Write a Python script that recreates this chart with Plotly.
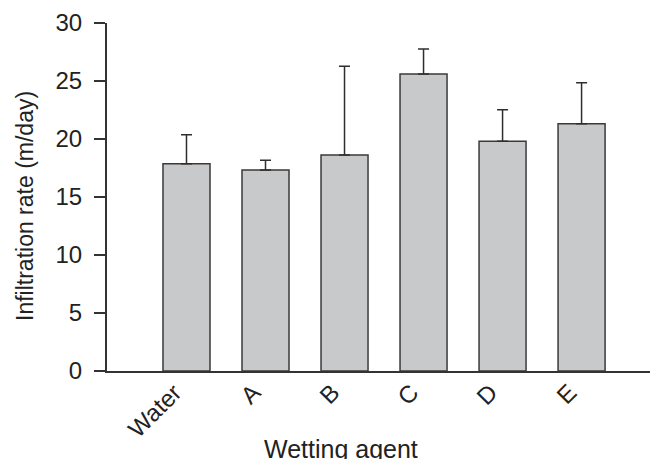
import plotly.graph_objects as go

categories = ["Water", "A", "B", "C", "D", "E"]
means = [17.87, 17.33, 18.62, 25.6, 19.8, 21.32]
upper = [20.37, 18.16, 26.27, 27.76, 22.53, 24.85]
err_plus = [u - m for u, m in zip(upper, means)]
err_minus = [0] * len(means)
y_ticks = [0, 5, 10, 15, 20, 25, 30]

W, H = 651, 459
L, R, T, B = 107, 1, 23, 88
pw = W - L - R
ph = H - T - B

fig = go.Figure()
fig.add_trace(go.Bar(
    x=list(range(len(categories))),
    y=means,
    marker=dict(color="#c8c9cb", line=dict(color="#3a3a3a", width=1.5)),
    error_y=dict(type="data", symmetric=False, array=err_plus, arrayminus=err_minus,
                 color="#2e2e2e", thickness=1.5, width=5.5),
    showlegend=False,
))

fig.update_layout(
    width=W, height=H,
    margin=dict(l=L, r=R, t=T, b=B, pad=0),
    paper_bgcolor="white", plot_bgcolor="white",
    bargap=0.405,
    font=dict(family="Liberation Sans, Arial, sans-serif", color="#222222"),
)
fig.update_xaxes(
    range=[-1.006, 5.866],
    tickmode="array", tickvals=list(range(len(categories))), ticktext=categories,
    tickangle=-45, tickfont=dict(size=24),
    ticklabelshift=-12, ticklabelstandoff=-4,
    ticks="", showline=True, linecolor="#333333", linewidth=2,
    showgrid=False, zeroline=False,
)
fig.update_yaxes(
    range=[0, 30],
    tickmode="array", tickvals=y_ticks, ticktext=[str(t) for t in y_ticks],
    tickfont=dict(size=24), ticks="outside", ticklen=11, tickwidth=2, tickcolor="#333333",
    ticklabelstandoff=7,
    showline=True, linecolor="#333333", linewidth=2,
    showgrid=False, zeroline=False,
)

fig.add_annotation(
    text="Infiltration rate (m/day)", xref="paper", yref="paper",
    x=(25 - L) / pw, y=(371 - 206) / ph, xanchor="center", yanchor="middle",
    textangle=-90, showarrow=False, font=dict(size=23, color="#222222"),
)
fig.add_annotation(
    text="Wetting agent", xref="paper", yref="paper",
    x=(341 - L) / pw, y=(371 - 433) / ph, xanchor="center", yanchor="top",
    showarrow=False, font=dict(size=25, color="#222222"),
)

fig.write_html("out.html")
